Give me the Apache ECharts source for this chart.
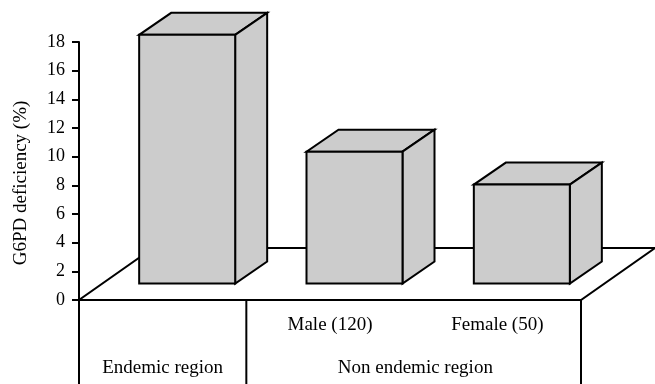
<!DOCTYPE html>
<html>
<head>
<meta charset="utf-8">
<style>
  html, body { margin: 0; padding: 0; background: #fff; }
  #chart { width: 655px; height: 384px; }
</style>
<script src="https://cdn.jsdelivr.net/npm/echarts@6/dist/echarts.min.js"></script>
</head>
<body>
<div id="chart"></div>
<script>
// values
const categories = ['', 'Male (120)', 'Female (50)'];
const barValues = [18.5, 10.35, 8.05];
const barBase = 1.15; // bars stand on the floor, a bit above the axis
const regions = ['Endemic region', 'Non endemic region'];
const regionCentres = [0, 1.51];
const dividers = [0, 1, 3];
const yTicks = [0, 18, 2];

const font = '"Liberation Serif", "Times New Roman", serif';
const ink = '#000';
const grey = '#cccccc';
const barWidth = 96;
const barShift = 24.5;
const barDepth = [32, -22];
const floorDepth = [74, -52];

const chart = echarts.init(document.getElementById('chart'));

function poly(points, fill) {
  return {
    type: 'polygon',
    shape: { points: points },
    style: { fill: fill, stroke: ink, lineWidth: 2, lineJoin: 'miter' }
  };
}

// category axis rounds fractional values, so positions between bands go through the band size
function bandX(api, pos) {
  return api.coord([0, 0])[0] + pos * api.size([1, 0])[0];
}

function renderFloor(params, api) {
  const y = api.coord([0, 0])[1];
  const a = [bandX(api, -0.5), y];
  const b = [bandX(api, 2.5), y];
  const d = floorDepth;
  return poly([a, b, [b[0] + d[0], b[1] + d[1]], [a[0] + d[0], a[1] + d[1]]], 'none');
}

function renderBar(params, api) {
  const i = api.value(0);
  const top = api.coord([i, api.value(1)]);
  const bottom = api.coord([i, barBase]);
  const x0 = top[0] - barWidth / 2 + barShift;
  const x1 = x0 + barWidth;
  const dx = barDepth[0];
  const dy = barDepth[1];
  return {
    type: 'group',
    children: [
      poly([[x0, top[1]], [x1, top[1]], [x1 + dx, top[1] + dy], [x0 + dx, top[1] + dy]], grey),
      poly([[x1, top[1]], [x1 + dx, top[1] + dy], [x1 + dx, bottom[1] + dy], [x1, bottom[1]]], grey),
      poly([[x0, top[1]], [x1, top[1]], [x1, bottom[1]], [x0, bottom[1]]], grey)
    ]
  };
}

function renderDivider(params, api) {
  const x = bandX(api, api.value(0) - 0.5);
  const y = api.coord([0, 0])[1];
  return {
    type: 'line',
    shape: { x1: x, y1: y, x2: x, y2: 384 },
    style: { stroke: ink, lineWidth: 2 }
  };
}

function renderRegion(params, api) {
  return {
    type: 'text',
    style: {
      x: bandX(api, api.value(0)),
      y: api.coord([0, 0])[1] + 68,
      text: regions[params.dataIndex],
      fill: ink,
      font: '19px ' + font,
      align: 'center',
      verticalAlign: 'middle'
    }
  };
}

chart.setOption({
  animation: false,
  grid: { left: 79, right: 74, top: 42, bottom: 84 },
  xAxis: {
    type: 'category',
    data: categories,
    axisLine: { lineStyle: { color: ink, width: 2 } },
    axisTick: { show: false },
    axisLabel: { interval: 0, margin: 16, color: ink, fontFamily: font, fontSize: 19 }
  },
  yAxis: {
    type: 'value',
    min: yTicks[0],
    max: yTicks[1],
    interval: yTicks[2],
    name: 'G6PD deficiency (%)',
    nameLocation: 'middle',
    nameGap: 48,
    // title sits a little below the middle of the axis
    nameTextStyle: { color: ink, fontFamily: font, fontSize: 19, padding: [0, 24, 0, 0] },
    splitLine: { show: false },
    axisLine: { show: true, lineStyle: { color: ink, width: 2 } },
    axisTick: { show: true, length: 7, lineStyle: { color: ink, width: 2 } },
    axisLabel: { margin: 14, color: ink, fontFamily: font, fontSize: 18 }
  },
  series: [
    { type: 'custom', silent: true, z: 1, clip: false, data: [[0]], renderItem: renderFloor },
    { type: 'custom', silent: true, z: 2, clip: false, data: dividers.map(d => [d]), renderItem: renderDivider },
    { type: 'custom', silent: true, z: 3, clip: false, data: regionCentres.map(c => [c]), renderItem: renderRegion },
    { type: 'custom', silent: true, z: 4, clip: false, data: barValues.map((v, i) => [i, v]), renderItem: renderBar }
  ]
});
</script>
</body>
</html>
